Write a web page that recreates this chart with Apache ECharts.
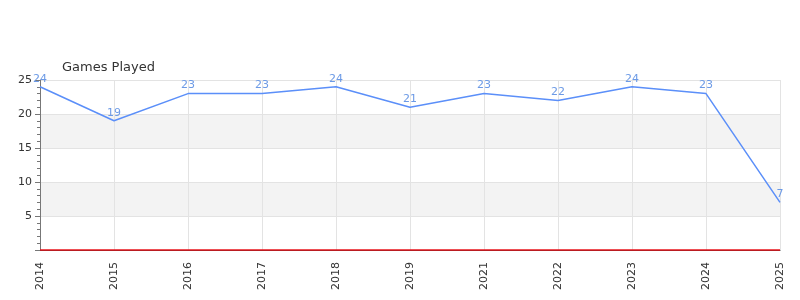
<!DOCTYPE html>
<html><head><meta charset="utf-8">
<script src="https://cdn.jsdelivr.net/npm/echarts@6/dist/echarts.min.js"></script>
<style>html,body{margin:0;padding:0;background:#fff}#c{width:800px;height:300px}</style>
</head><body><div id="c"></div>
<script>
const categories = ['2014','2015','2016','2017','2018','2019','2021','2022','2023','2024','2025'];
const gamesPlayed = [24,19,23,23,24,21,23,22,24,23,7];
const seriesName = 'Games Played';

const chart = echarts.init(document.getElementById('c'), null, {renderer:'canvas'});
chart.setOption({
  animation:false,
  textStyle:{fontFamily:'DejaVu Sans'},
  title:{text:seriesName,left:57,top:56,textStyle:{fontSize:13,fontWeight:'normal',color:'#333'}},
  grid:{left:40,right:20,top:80,bottom:50,containLabel:false},
  xAxis:{type:'category',data:categories,boundaryGap:false,
    axisLine:{show:true,lineStyle:{color:'#333',width:1}},
    axisTick:{show:false},
    axisLabel:{rotate:90,color:'#333',fontSize:11,margin:12},
    splitLine:{show:true,lineStyle:{color:'#e3e3e3'}}},
  yAxis:{type:'value',min:0,max:25,interval:5,
    axisLine:{show:true,lineStyle:{color:'#777'}},
    axisTick:{show:true,length:5,lineStyle:{color:'#777'}},
    minorTick:{show:true,splitNumber:5,length:3,lineStyle:{color:'#777'}},
    axisLabel:{color:'#333',fontSize:11,showMinLabel:false},
    splitLine:{show:true,lineStyle:{color:'#e3e3e3'}},
    splitArea:{show:true,areaStyle:{color:['#ffffff','#f3f3f3']}}},
  series:[{name:seriesName,type:'line',data:gamesPlayed,showSymbol:true,symbol:'circle',symbolSize:1,
    lineStyle:{color:'#5b8ff9',width:1.5},itemStyle:{color:'rgba(0,0,0,0)',borderWidth:0},
    label:{show:true,position:'top',color:'#6c9ae6',fontSize:11,distance:2},
    markLine:{silent:true,symbol:'none',label:{show:false},lineStyle:{color:'#e8141c',type:'solid',width:1.5},data:[{yAxis:0}]}
  }]
});
</script></body></html>
